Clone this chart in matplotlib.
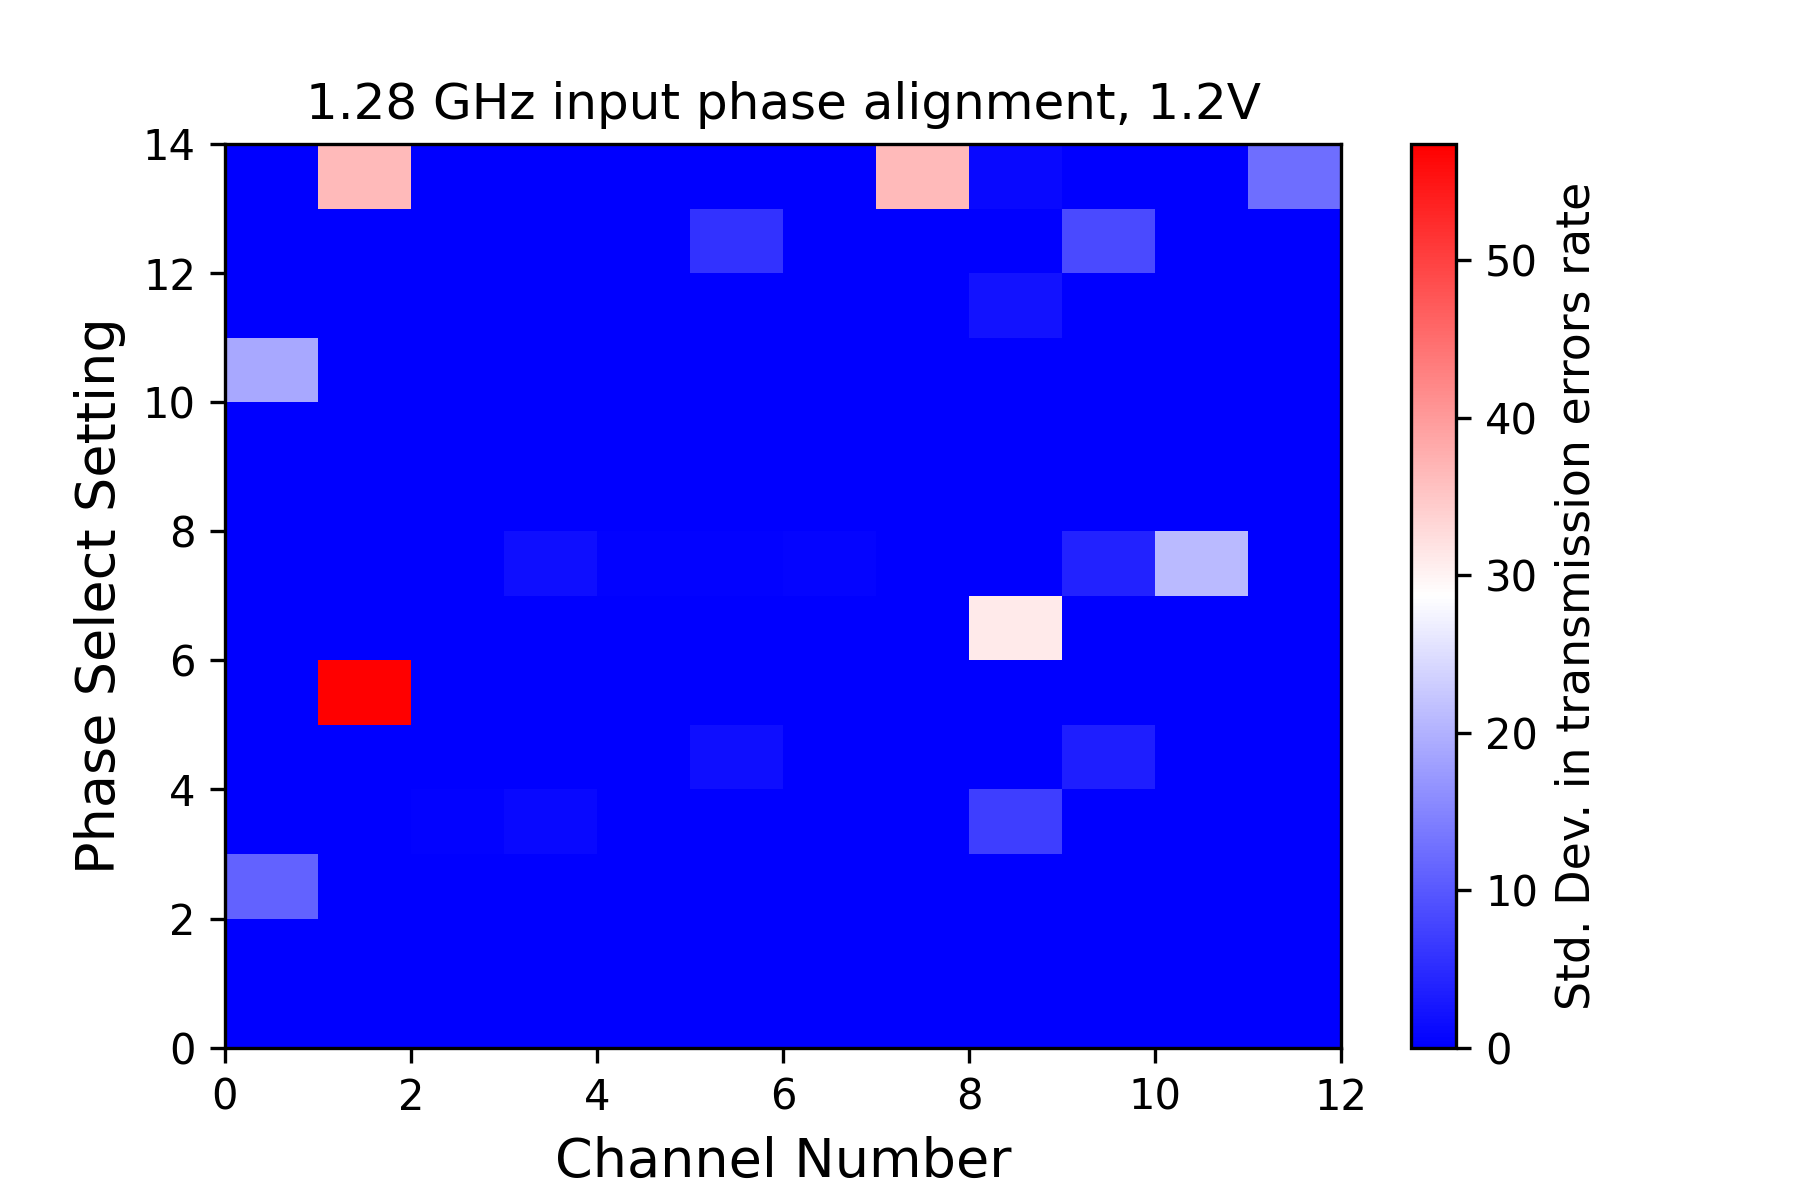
import numpy as np
import matplotlib
matplotlib.use("Agg")
import matplotlib.pyplot as plt

# std. dev. of transmission error rate, rows = phase select setting 0..13,
# columns = channel 0..11
row_00 = [0, 0, 0, 0, 0, 0, 0, 0, 0, 0, 0, 0]
row_01 = [0, 0, 0, 0, 0, 0, 0, 0, 0, 0, 0, 0]
row_02 = [11.0, 0, 0, 0, 0, 0, 0, 0, 0, 0, 0, 0]
row_03 = [0, 0, 0.3, 1.1, 0, 0, 0, 0, 7.0, 0, 0, 0]
row_04 = [0, 0, 0, 0, 0, 1.7, 0, 0, 0, 3.5, 0, 0]
row_05 = [0, 57.4, 0, 0, 0, 0, 0, 0, 0, 0, 0, 0]
row_06 = [0, 0, 0, 0, 0, 0, 0, 0, 31.1, 0, 0, 0]
row_07 = [0, 0, 0, 1.7, 0.4, 0.3, 0.5, 0, 0, 4.0, 21.0, 0]
row_08 = [0, 0, 0, 0, 0, 0, 0, 0, 0, 0, 0, 0]
row_09 = [0, 0, 0, 0, 0, 0, 0, 0, 0, 0, 0, 0]
row_10 = [19.0, 0, 0, 0, 0, 0, 0, 0, 0, 0, 0, 0]
row_11 = [0, 0, 0, 0, 0, 0, 0, 0, 2.2, 0, 0, 0]
row_12 = [0, 0, 0, 0, 0, 5.7, 0, 0, 0, 8.4, 0, 0]
row_13 = [0, 36.5, 0, 0, 0, 0, 0, 36.5, 1.1, 0, 0, 12.4]

std_dev = np.array([row_00, row_01, row_02, row_03, row_04, row_05, row_06,
                    row_07, row_08, row_09, row_10, row_11, row_12, row_13])

fig = plt.figure(figsize=(6, 4), dpi=300)
plt.subplots_adjust(bottom=0.127)
plt.pcolormesh(std_dev, cmap='bwr', vmin=0, vmax=std_dev.max())
cb = plt.colorbar()
cb.set_label('Std. Dev. in transmission errors rate', fontsize=11)
plt.xlabel('Channel Number', fontsize=13)
plt.ylabel('Phase Select Setting', fontsize=13)
plt.title('1.28 GHz input phase alignment, 1.2V', fontsize=12)
plt.savefig('out.png', dpi=300)
